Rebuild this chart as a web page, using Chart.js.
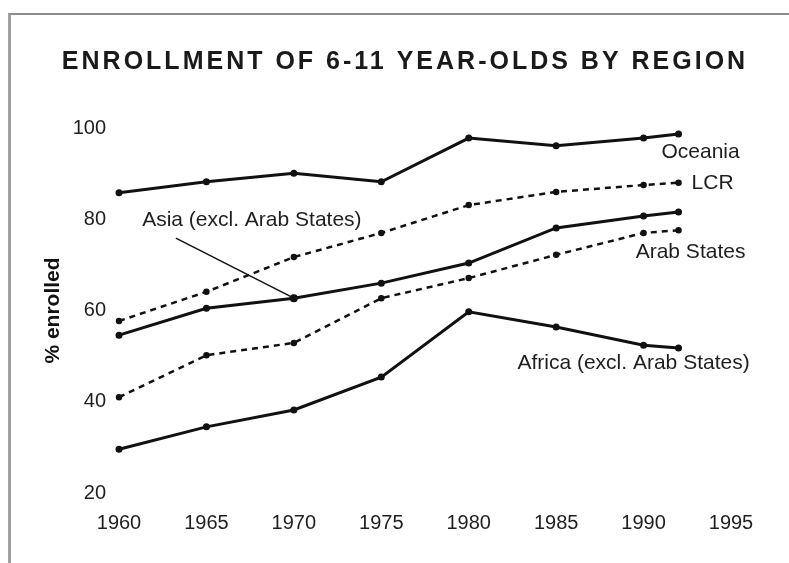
<!DOCTYPE html>
<html>
<head>
<meta charset="utf-8">
<script src="https://cdn.jsdelivr.net/npm/chart.js@4.4.1/dist/chart.umd.min.js"></script>
<style>
  html, body { margin: 0; padding: 0; background: #fff; }
  #wrap { position: relative; width: 789px; height: 563px; }
  #frame { position: absolute; left: 8px; top: 13px; width: 790px; height: 560px;
           border-top: 2px solid #8c8c8c; border-left: 3px solid #a0a0a0; }
  canvas { position: absolute; left: 0; top: 0; }
</style>
</head>
<body>
<div id="wrap">
  <div id="frame"></div>
  <canvas id="grafico" width="789" height="563"></canvas>
</div>
<script>
// valores (% matriculados)
var anos = [1960, 1965, 1970, 1975, 1980, 1985, 1990, 1992];
var oceania = [85.8, 88.2, 90.1, 88.2, 97.8, 96.1, 97.8, 98.7];
var lcr = [57.7, 64.1, 71.7, 77.0, 83.1, 86.0, 87.5, 88.0];
var asia = [54.6, 60.5, 62.7, 66.0, 70.4, 78.1, 80.7, 81.6];
var arabes = [41.0, 50.2, 52.9, 62.7, 67.1, 72.2, 77.0, 77.6];
var africa = [29.6, 34.5, 38.2, 45.4, 59.7, 56.4, 52.4, 51.8];

var titulo = 'ENROLLMENT OF 6-11 YEAR-OLDS BY REGION';
var rotulos = ['Oceania', 'LCR', 'Asia (excl. Arab States)', 'Arab States', 'Africa (excl. Arab States)'];

function pontos(valores) {
    return anos.map((a, i) => ({ x: a, y: valores[i] }));
}

function serie(label, valores, tracejado) {
    return {
        label: label,
        data: pontos(valores),
        borderColor: '#111',
        backgroundColor: '#111',
        borderWidth: tracejado ? 2.5 : 3,
        borderDash: tracejado ? [6, 5] : [],
        pointRadius: 2,
        pointHoverRadius: 2,
        tension: 0,
        clip: false
    };
}

// rotulos das series, posicionados a partir dos pontos do proprio grafico
var rotulosPlugin = {
    id: 'rotulos',
    afterDraw(chart) {
        var ctx = chart.ctx;
        ctx.save();

        ctx.fillStyle = '#1a1a1a';
        ctx.font = 'bold 25px "Liberation Sans"';
        ctx.letterSpacing = '3px';
        ctx.textAlign = 'center';
        ctx.textBaseline = 'middle';
        ctx.fillText(titulo, 405, 62);
        ctx.letterSpacing = '0px';

        ctx.font = '21px "Liberation Sans"';
        ctx.fillStyle = '#1e1e1e';
        var spots = [
            { ds: 0, pt: 7, dx: 22, dy: 18, align: 'center' },
            { ds: 1, pt: 7, dx: 13, dy: 0, align: 'left' },
            { ds: 2, pt: 2, dx: -42, dy: -78, align: 'center' },
            { ds: 3, pt: 7, dx: 12, dy: 22, align: 'center' },
            { ds: 4, pt: 7, dx: -45, dy: 15, align: 'center' }
        ];
        spots.forEach((s, i) => {
            var p = chart.getDatasetMeta(s.ds).data[s.pt];
            ctx.textAlign = s.align;
            ctx.fillText(rotulos[i], p.x + s.dx, p.y + s.dy);
        });

        // seta da Asia
        var alvo = chart.getDatasetMeta(2).data[2];
        ctx.strokeStyle = '#111';
        ctx.lineWidth = 1.5;
        ctx.beginPath();
        ctx.moveTo(alvo.x - 118, alvo.y - 60);
        ctx.lineTo(alvo.x, alvo.y);
        ctx.stroke();
        ctx.fillStyle = '#111';
        ctx.beginPath();
        ctx.arc(alvo.x, alvo.y, 4, 0, Math.PI * 2);
        ctx.fill();

        ctx.restore();
    }
};

var grafico = new Chart(document.getElementById('grafico').getContext('2d'), {
    type: 'line',
    data: {
        datasets: [
            serie('Oceania', oceania, false),
            serie('LCR', lcr, true),
            serie('Asia (excl. Arab States)', asia, false),
            serie('Arab States', arabes, true),
            serie('Africa (excl. Arab States)', africa, false)
        ]
    },
    options: {
        responsive: false,
        animation: false,
        events: [],
        layout: { padding: { top: 128, right: 58, bottom: 0, left: 0 } },
        plugins: {
            legend: { display: false },
            tooltip: { enabled: false }
        },
        scales: {
            x: {
                type: 'linear',
                min: 1960,
                max: 1995,
                grid: { display: false, drawTicks: false },
                border: { display: false },
                ticks: {
                    stepSize: 5,
                    padding: 18,
                    color: '#1e1e1e',
                    font: { family: 'Liberation Sans', size: 20 },
                    callback: v => String(v)
                },
                afterFit: s => { s.height = 70; }
            },
            y: {
                min: 20,
                max: 100,
                grid: { display: false, drawTicks: false },
                border: { display: false },
                ticks: {
                    stepSize: 20,
                    padding: 13,
                    color: '#1e1e1e',
                    font: { family: 'Liberation Sans', size: 20 }
                },
                title: {
                    display: true,
                    text: '% enrolled',
                    color: '#111',
                    font: { family: 'Liberation Sans', size: 21, weight: 'bold' },
                    padding: { top: 41, bottom: 0 }
                },
                afterFit: s => { s.width = 119; }
            }
        }
    },
    plugins: [rotulosPlugin]
});
</script>
</body>
</html>
